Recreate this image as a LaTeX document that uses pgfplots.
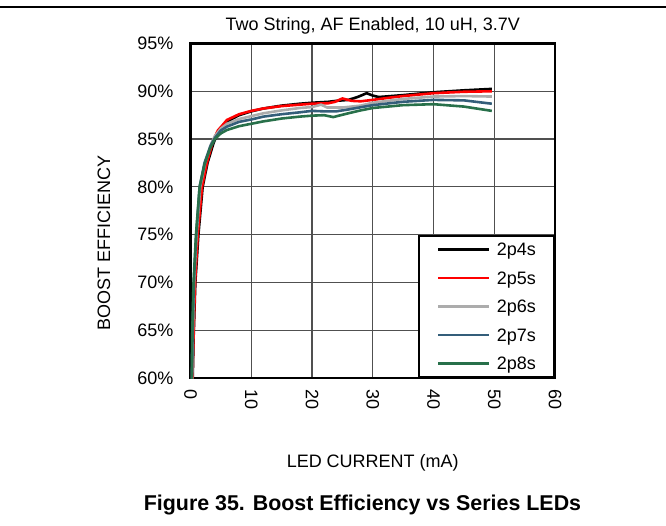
\documentclass[border=0pt]{standalone}
\usepackage{pgfplots}
\pgfplotsset{compat=1.18}
\usepackage{fontspec}
\setmainfont{Liberation Sans}
\definecolor{cfour}{RGB}{0,0,0}
\definecolor{cfive}{RGB}{255,0,0}
\definecolor{csix}{RGB}{172,172,172}
\definecolor{cseven}{RGB}{52,94,122}
\definecolor{ceight}{RGB}{40,112,74}
\definecolor{gridc}{RGB}{80,80,80}
\newcommand\f{\fontsize{18}{21.6}\selectfont}
\begin{document}
\begin{tikzpicture}[x=1pt,y=1pt]
\useasboundingbox (0,0) rectangle (666,525);
\draw[line width=1.5pt, black] (0,518) -- (666,518);
\begin{axis}[
  at={(190.5pt,147pt)}, anchor=south west,
  scale only axis, width=364.5pt, height=334.5pt,
  xmin=0, xmax=60, ymin=60, ymax=95,
  xtick={0,10,20,30,40,50,60}, xticklabels={0,10,20,30,40,50,60},
  ytick={60,65,70,75,80,85,90,95},
  yticklabels={60\%,65\%,70\%,75\%,80\%,85\%,90\%,95\%},
  grid=major, major grid style={line width=1.2pt, gridc},
  major tick length=0pt,
  axis line style={line width=2.8pt, black},
  tick label style={font=\f},
  xticklabel style={rotate=-90, anchor=west, inner ysep=0pt, inner xsep=11pt},
  yticklabel style={anchor=east, inner ysep=0pt, inner xsep=17pt},
  title={Two String, AF Enabled, 10 uH, 3.7V},
  title style={font=\f, at={(0.5,1.0344)}, anchor=center, inner sep=0pt},
  xlabel={LED CURRENT (mA)},
  xlabel style={font=\f, at={(0.5,-0.2526)}, anchor=center, inner sep=0pt},
  ylabel={BOOST EFFICIENCY},
  ylabel style={font=\f, at={(-0.2373,0.404)}, anchor=center, inner sep=0pt},
  clip=true,
  legend style={at={(1,0)}, anchor=south east, draw=black, line width=2pt, fill=white,
    font=\f, inner xsep=18pt, inner ysep=7.5pt, row sep=16.5pt,
    nodes={inner sep=0pt, text height=12pt, text depth=0pt}},
  /tikz/every odd column/.style={column sep=6.5pt},
  legend cell align=left,
  legend image code/.code={\draw[#1] (0pt,0pt) -- (51pt,0pt);},
  every axis plot/.append style={line width=2.6pt, line join=round, mark=none},
]
\addplot[cfour] coordinates {(0.35,59.5) (0.5,64) (0.8,70) (1.3,75) (2.0,80) (2.8,82.5) (3.8,84.6) (4.6,85.8) (5.5,86.5) (6.5,87.0) (8,87.5) (10,87.9) (12,88.2) (15,88.5) (18,88.7) (20,88.8) (22.7,88.9) (24,89.0) (26,89.1) (27.5,89.4) (29,89.8) (30,89.55) (31,89.4) (33,89.5) (35,89.6) (40,89.9) (45,90.1) (49.6,90.25)};
\addlegendentry{2p4s}
\addplot[cfive] coordinates {(0.3,59.5) (0.5,64.5) (0.75,70) (1.2,75) (1.9,80) (2.7,82.5) (3.7,84.8) (4.5,85.9) (5.2,86.4) (6,87.0) (8,87.6) (10,87.95) (12,88.2) (15,88.45) (18,88.6) (20,88.7) (22.7,88.75) (23.8,88.9) (25,89.25) (26.5,89.0) (28,88.95) (30,89.1) (33,89.35) (35,89.5) (40,89.8) (45,89.95) (49.6,90.0)};
\addlegendentry{2p5s}
\addplot[csix] coordinates {(0.25,59.5) (0.4,65) (0.6,70) (1.0,75) (1.6,80) (2.4,82.5) (3.4,84.5) (4,85.3) (5,86.1) (6,86.6) (8,87.1) (10,87.4) (12,87.7) (15,88.0) (18,88.25) (20,88.35) (21.5,88.6) (22.5,88.3) (25,88.3) (28,88.5) (30,88.8) (35,89.2) (40,89.45) (45,89.5) (49.6,89.45)};
\addlegendentry{2p6s}
\addplot[cseven] coordinates {(0.22,59.5) (0.35,65) (0.55,70) (0.95,75) (1.5,80) (2.3,82.5) (3.3,84.3) (4,85.1) (5,85.9) (6,86.3) (8,86.8) (10,87.05) (12,87.35) (15,87.6) (18,87.8) (20,87.95) (22,87.9) (24,87.9) (26,88.1) (30,88.55) (35,88.9) (40,89.1) (45,89.05) (49.6,88.7)};
\addlegendentry{2p7s}
\addplot[ceight] coordinates {(0.2,59.5) (0.3,65) (0.5,70) (0.9,75) (1.5,80) (2.3,82.3) (3.2,84.0) (4,85.0) (5,85.6) (6,85.95) (8,86.35) (10,86.6) (12,86.85) (15,87.15) (18,87.35) (20,87.45) (22,87.5) (23.5,87.3) (26,87.7) (28,88.0) (30,88.25) (35,88.55) (40,88.65) (45,88.4) (49.6,87.95)};
\addlegendentry{2p8s}
\end{axis}
\node[font=\fontsize{21.4}{25}\selectfont\bfseries] at (362.5,20) {Figure 35. Boost Efficiency vs Series LEDs};
\end{tikzpicture}
\end{document}
